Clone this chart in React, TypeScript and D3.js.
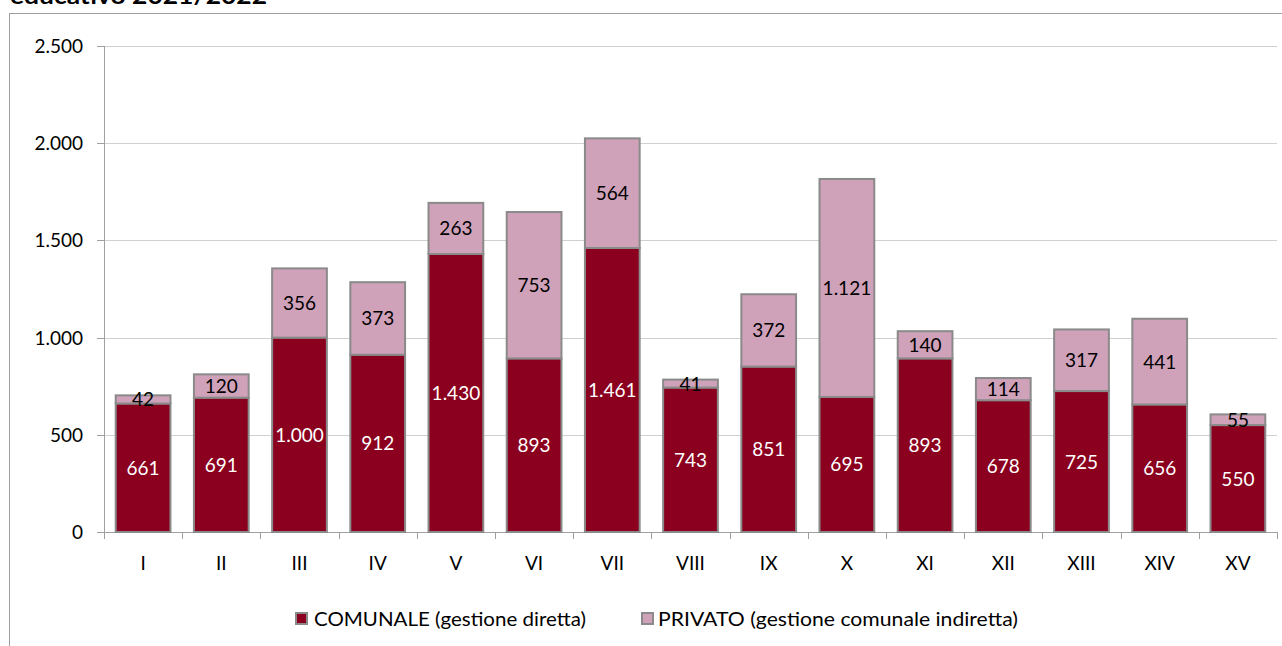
import React from "react";
import * as d3 from "d3";

const categories = ["I","II","III","IV","V","VI","VII","VIII","IX","X","XI","XII","XIII","XIV","XV"];
const comunale = [661,691,1000,912,1430,893,1461,743,851,695,893,678,725,656,550];
const privato = [42,120,356,373,263,753,564,41,372,1121,140,114,317,441,55];
const yTicks = [0,500,1000,1500,2000,2500];
const seriesNames = ["COMUNALE (gestione diretta)", "PRIVATO (gestione comunale indiretta)"];
const colors = ["#8B001E", "#CFA2BA"];

const W = 1282, H = 646;
const fmt = (v: number) => String(v).replace(/\B(?=(\d{3})+(?!\d))/g, ".");

export default function App() {
  const left = 104, right = 1277, top = 46, bottom = 532;
  const x = d3.scaleBand<string>().domain(categories).range([left, right]).paddingInner(0.3).paddingOuter(0.15);
  const y = d3.scaleLinear().domain([0, 2500]).range([bottom, top]);
  const font = "Lato, 'Open Sans', sans-serif";
  const step = x.step();
  const fs = 19;
  const legend = [
    { sx: 295, tx: 314, len: 272 },
    { sx: 641, tx: 658, len: 360 },
  ];
  return (
    <div style={{ position: "fixed", left: 0, top: 0 }}>
      <svg width={W} height={H} style={{ display: "block", fontFamily: font }}>
        <rect x={0} y={0} width={W} height={H} fill="#fff" />
        <text x={10} y={4} fontSize={22} fontWeight="bold" fill="#000" textLength={257} lengthAdjust="spacingAndGlyphs">educativo 2021/2022</text>
        <rect x={9.5} y={13.5} width={W} height={H} fill="none" stroke="#9e9e9e" strokeWidth={1} />
        {yTicks.map(t => (
          <g key={t}>
            {t > 0 && <line x1={left} x2={right} y1={Math.round(y(t)) + 0.5} y2={Math.round(y(t)) + 0.5} stroke="#d0d0d0" />}
            <line x1={left - 7} x2={left} y1={Math.round(y(t)) + 0.5} y2={Math.round(y(t)) + 0.5} stroke="#a0a0a0" />
            <text x={left - 21} y={y(t) + 7} textAnchor="end" fontSize={fs} fill="#000">{fmt(t)}</text>
          </g>
        ))}
        <line x1={left + 0.5} x2={left + 0.5} y1={top} y2={bottom} stroke="#a0a0a0" />
        <line x1={left} x2={right} y1={bottom + 0.5} y2={bottom + 0.5} stroke="#a0a0a0" />
        {d3.range(categories.length + 1).map(i => {
          const xx = Math.round(left + i * step) + 0.5;
          return <line key={i} x1={xx} x2={xx} y1={bottom} y2={bottom + 7} stroke="#a0a0a0" />;
        })}
        {categories.map((c, i) => {
          const bx = x(c)!;
          const bw = x.bandwidth();
          const c0 = comunale[i], p0 = privato[i];
          const cx = bx + bw / 2;
          return (
            <g key={c}>
              <rect x={bx} y={y(c0)} width={bw} height={y(0) - y(c0)} fill={colors[0]} stroke="#8a8a8a" strokeWidth={2} />
              <rect x={bx} y={y(c0 + p0)} width={bw} height={y(c0) - y(c0 + p0)} fill={colors[1]} stroke="#8a8a8a" strokeWidth={2} />
              <text x={cx} y={(y(0) + y(c0)) / 2 + 7} textAnchor="middle" fontSize={fs} fill="#fff">{fmt(c0)}</text>
              <text x={cx} y={(y(c0) + y(c0 + p0)) / 2 + 7} textAnchor="middle" fontSize={fs} fill="#000">{fmt(p0)}</text>
              <text x={cx} y={570} textAnchor="middle" fontSize={fs} fill="#000">{c}</text>
            </g>
          );
        })}
        {legend.map((l, i) => (
          <g key={i}>
            <rect x={l.sx + 1} y={613} width={11} height={11} fill={colors[i]} stroke="#8a8a8a" strokeWidth={2} />
            <text x={l.tx} y={626} fontSize={fs} fill="#000" textLength={l.len} lengthAdjust="spacingAndGlyphs">{seriesNames[i]}</text>
          </g>
        ))}
      </svg>
    </div>
  );
}
